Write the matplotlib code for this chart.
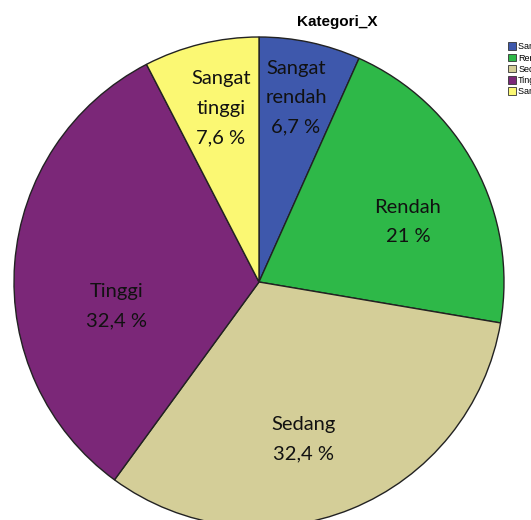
import matplotlib
matplotlib.use("Agg")
import matplotlib.pyplot as plt
from matplotlib.patches import Patch

categories = ["Sangat rendah", "Rendah", "Sedang", "Tinggi", "Sangat tinggi"]
values = [6.7, 21, 32.4, 32.4, 7.6]
value_labels = ["6,7 %", "21 %", "32,4 %", "32,4 %", "7,6 %"]
display_names = ["Sangat\nrendah", "Rendah", "Sedang", "Tinggi", "Sangat\ntinggi"]
colors = ["#3E58AC", "#2EB848", "#D4CE98", "#7B2778", "#FBF873"]

# label positions (data coords, radius 1)
label_pos = [(0.151, 0.752), (0.608, 0.245), (0.180, -0.642), (-0.580, -0.098), (-0.155, 0.710)]

W, H = 531, 520
fig = plt.figure(figsize=(W / 100, H / 100), dpi=100)
cx, cy, r = 259, 282, 245
ax = fig.add_axes([(cx - r) / W, (H - cy - r) / H, 2 * r / W, 2 * r / H])
ax.pie(values, colors=colors, startangle=90, counterclock=False,
       wedgeprops=dict(edgecolor="#222222", linewidth=1.0))
ax.set_xlim(-1, 1)
ax.set_ylim(-1, 1)
ax.set_aspect("equal")
ax.axis("off")

for name, vl, (x, y) in zip(display_names, value_labels, label_pos):
    ax.text(x, y, f"{name}\n{vl}", ha="center", va="center", fontsize=14.5,
            family="Lato", linespacing=1.9, color="#111111")

fig.text(337 / W, 1 - 22 / H, "Kategori_X", ha="center", va="center",
         fontsize=11, fontweight="bold", family="Liberation Sans")

handles = [Patch(facecolor=c, edgecolor="#333333", linewidth=0.6) for c in colors]
fig.legend(handles, categories, loc="upper left",
           bbox_to_anchor=(502 / W, 1 - 36 / H), frameon=False,
           handlelength=0.9, handleheight=0.9,
           handletextpad=0.2, labelspacing=0.25, borderpad=0.2,
           prop={"family": "Liberation Sans", "size": 6.5})

fig.savefig("out.png", dpi=100)
